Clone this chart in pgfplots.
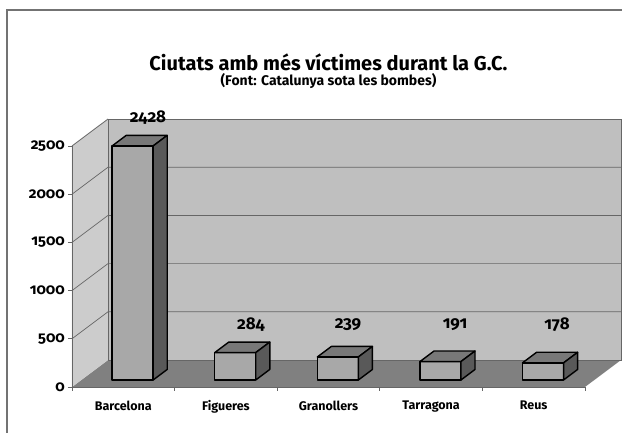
\documentclass[border=0pt]{standalone}
\usepackage{pgfplots}
\pgfplotsset{compat=1.18}
\usepackage{pgfplotstable}
\usepackage{fontspec}
\setmainfont{Fira Sans}[Numbers=OldStyle]
\definecolor{wallback}{gray}{0.75}
\definecolor{wallleft}{gray}{0.80}
\definecolor{floorc}{gray}{0.50}
\definecolor{gridc}{gray}{0.40}
\definecolor{barfront}{gray}{0.66}
\definecolor{bartop}{gray}{0.47}
\definecolor{barside}{gray}{0.35}
\definecolor{framec}{gray}{0.45}

\pgfplotstableread{
x v
0.5 2428
1.5 284
2.5 239
3.5 191
4.5 178
}\bars
\pgfplotstableread{
lx ly v
0.74 2800 2428
1.745 643 284
2.69 643 239
3.733 643 191
4.727 643 178
}\labels

\def\wbar{0.2}\def\aone{0.0912}\def\bone{72.8}\def\atwo{0.228}\def\btwo{182}

\begin{document}
\begin{tikzpicture}
\useasboundingbox (0,0) rectangle (622pt,433pt);
\draw[framec, line width=1.4pt] (7pt,-5pt) -- (7pt,423pt) -- (630pt,423pt);
\begin{axis}[
 at={(72pt,46pt)}, anchor=south west,
 x=102.6pt, y=0.0964pt,
 xmin=0, xmax=5, ymin=0, ymax=2500,
 clip=false, axis on top,
 axis lines=left,
 axis line style={-, draw=gridc, line width=0.8pt},
 tick align=outside, major tick length=4pt,
 tick style={draw=gridc, line width=0.8pt},
 ytick={0,500,1000,1500,2000,2500},
 yticklabels={0,500,1000,1500,2000,2500},
 yticklabel style={font=\fontsize{15}{16}\selectfont\bfseries, inner xsep=3pt},
 xtick={0,1,2,3,4,5}, xticklabels={},
 extra x ticks={0.5,1.5,2.5,3.5,4.5},
 extra x tick labels={Barcelona,Figueres,Granollers,Tarragona,Reus},
 extra x tick style={major tick length=0pt, xticklabel style={font=\fontsize{12.5}{14}\selectfont\bfseries, yshift=-10pt}},
 title={\fontsize{20}{23}\selectfont\bfseries Ciutats amb més víctimes durant la G.C.\\[1pt]\fontsize{14}{16}\selectfont\bfseries (Font: Catalunya sota les bombes)},
 title style={align=center, at={(0.5,1.285)}, anchor=center},
 barstyle/.style={draw=black, line width=1.4pt, line join=round},
]
% floor and walls
\addplot[fill=floorc, draw=none] coordinates {(0,0)(5,0)(5.3509,280)(0.3509,280)} -- cycle;
\addplot[fill=wallleft, draw=none] coordinates {(0,0)(0.3509,280)(0.3509,2780)(0,2500)} -- cycle;
\addplot[fill=wallback, draw=gridc, line width=0.8pt] coordinates {(0.3509,280)(5.3509,280)(5.3509,2780)(0.3509,2780)} -- cycle;
\addplot[draw=gridc, line width=0.8pt] coordinates {(0,2500)(0.3509,2780)};
% gridlines
\addplot[gridc, line width=0.7pt] coordinates {(0,500)(0.3509,780)(5.3509,780)};
\addplot[gridc, line width=0.7pt] coordinates {(0,1000)(0.3509,1280)(5.3509,1280)};
\addplot[gridc, line width=0.7pt] coordinates {(0,1500)(0.3509,1780)(5.3509,1780)};
\addplot[gridc, line width=0.7pt] coordinates {(0,2000)(0.3509,2280)(5.3509,2280)};
% bars
\pgfplotsforeachungrouped \i in {0,...,4}{%
 \pgfplotstablegetelem{\i}{x}\of\bars \let\cx\pgfplotsretval
 \pgfplotstablegetelem{\i}{v}\of\bars \let\cv\pgfplotsretval
 \pgfmathsetmacro\xl{\cx-\wbar+\aone}%
 \pgfmathsetmacro\xr{\cx+\wbar+\aone}%
 \pgfmathsetmacro\xlb{\cx-\wbar+\atwo}%
 \pgfmathsetmacro\xrb{\cx+\wbar+\atwo}%
 \pgfmathsetmacro\yb{\bone}%
 \pgfmathsetmacro\yt{\cv+\bone}%
 \pgfmathsetmacro\ybb{\btwo}%
 \pgfmathsetmacro\ytb{\cv+\btwo}%
 \edef\tmp{%
 \noexpand\addplot[barstyle, fill=barfront] coordinates {(\xl,\yb)(\xr,\yb)(\xr,\yt)(\xl,\yt)} -- cycle;
 \noexpand\addplot[barstyle, fill=bartop] coordinates {(\xl,\yt)(\xr,\yt)(\xrb,\ytb)(\xlb,\ytb)} -- cycle;
 \noexpand\addplot[barstyle, fill=barside] coordinates {(\xr,\yb)(\xrb,\ybb)(\xrb,\ytb)(\xr,\yt)} -- cycle;
 }%
 \tmp
}
% value labels
\addplot[draw=none, nodes near coords, point meta=explicit symbolic,
 every node near coord/.append style={anchor=center, font=\fontsize{17}{18}\selectfont\bfseries}]
 table[x=lx, y=ly, meta=v] {\labels};
\end{axis}
\end{tikzpicture}
\end{document}
